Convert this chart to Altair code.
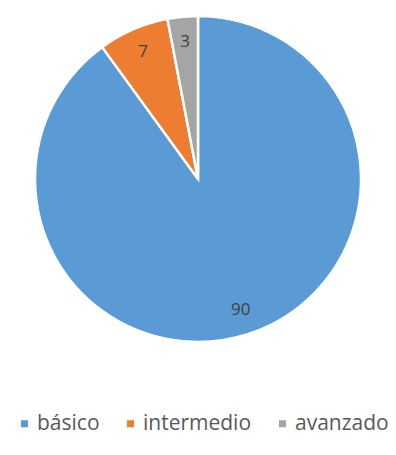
import altair as alt
import pandas as pd

categories = ["básico", "intermedio", "avanzado"]
values = [90, 7, 3]
colors = ["#5B9BD5", "#ED7D31", "#A5A5A5"]

df = pd.DataFrame({"cat": categories, "val": values, "ord": [0, 1, 2]})

R = 163

base = alt.Chart(df).encode(
    theta=alt.Theta("val:Q", stack=True),
    order=alt.Order("ord:Q"),
)

arcs = base.mark_arc(stroke="white", strokeWidth=2.5, radius=R).encode(
    color=alt.Color(
        "cat:N",
        scale=alt.Scale(domain=categories, range=colors),
        sort=categories,
        legend=alt.Legend(
            title=None,
            orient="none",
            legendX=6,
            legendY=405,
            direction="horizontal",
            symbolType="square",
            symbolSize=50,
            symbolStrokeWidth=0,
            labelFont="Open Sans",
            labelFontSize=21,
            labelColor="#595959",
            columnPadding=20,
            labelOffset=2,
        ),
    )
)

labels = base.mark_text(radius=138, font="Open Sans", fontSize=17, color="#404040").encode(
    text=alt.Text("val:Q")
)

chart = (
    alt.layer(arcs, labels)
    .properties(
        width=380,
        height=342,
        autosize=alt.AutoSizeParams(type="none"),
        padding={"left": 0, "top": 0, "right": 0, "bottom": 96},
    )
    .configure_view(stroke=None, strokeWidth=0)
    .configure(background="white")
)

chart.save("out.html", embed_options={"renderer": "svg", "actions": False})
